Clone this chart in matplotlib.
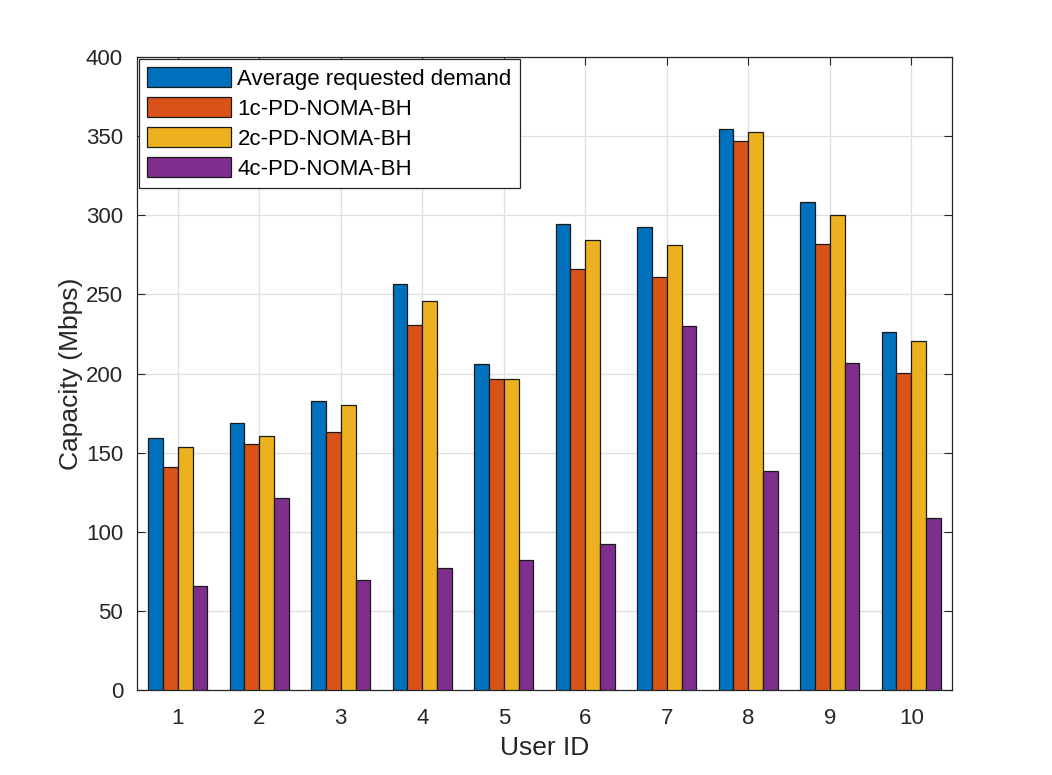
import numpy as np
import matplotlib.pyplot as plt

plt.rcParams['font.family'] = ['Liberation Sans', 'DejaVu Sans']

users = [1, 2, 3, 4, 5, 6, 7, 8, 9, 10]
avg_demand = [159.0, 168.7, 182.6, 256.6, 206.2, 294.3, 292.8, 354.3, 308.6, 226.2]
c1_noma = [141.1, 155.3, 163.0, 230.5, 196.5, 266.0, 261.2, 346.7, 281.8, 200.1]
c2_noma = [153.6, 160.5, 180.3, 245.8, 196.3, 284.4, 281.2, 352.4, 300.2, 220.7]
c4_noma = [65.5, 121.5, 69.3, 77.0, 82.1, 92.1, 230.0, 138.6, 206.6, 108.9]

labels = ['Average requested demand', '1c-PD-NOMA-BH', '2c-PD-NOMA-BH', '4c-PD-NOMA-BH']
colors = ['#0072BD', '#D95319', '#EDB120', '#7E2F8E']
series = [avg_demand, c1_noma, c2_noma, c4_noma]

fig = plt.figure(figsize=(10.52, 7.75), dpi=100)
ax = fig.add_axes([137/1052, 1-690/775, 815/1052, 633/775])

x = np.array(users)
w = 0.727 / 4
for i, (vals, lab, col) in enumerate(zip(series, labels, colors)):
    ax.bar(x + (i - 1.5) * w, vals, width=w, color=col, edgecolor='#1a1a1a',
           linewidth=0.9, label=lab, zorder=3)

ax.set_xlim(0.5, 10.5)
ax.set_ylim(0, 400)
ax.set_xticks(users)
ax.set_yticks(np.arange(0, 401, 50))
ax.grid(True, color='#dfdfdf', linewidth=0.9, zorder=0)
ax.tick_params(direction='in', top=True, right=True, labelsize=16,
               colors='#262626', length=6, width=0.8)
ax.tick_params(axis='x', pad=13)
ax.tick_params(axis='y', pad=10)
for s in ax.spines.values():
    s.set_color('#262626')
    s.set_linewidth(0.9)
ax.set_xlabel('User ID', fontsize=19, color='#262626', labelpad=5)
ax.set_ylabel('Capacity (Mbps)', fontsize=19, color='#262626', labelpad=2)

leg = ax.legend(loc='upper left', bbox_to_anchor=(139/1052, 1-59/775),
                bbox_transform=fig.transFigure, borderaxespad=0,
                fontsize=16, handlelength=3.75, handleheight=1.0,
                fancybox=False, framealpha=1, edgecolor='#262626',
                borderpad=0.38, labelspacing=0.33, handletextpad=0.3)
leg.get_frame().set_linewidth(0.9)

fig.savefig('out.png', dpi=100)
